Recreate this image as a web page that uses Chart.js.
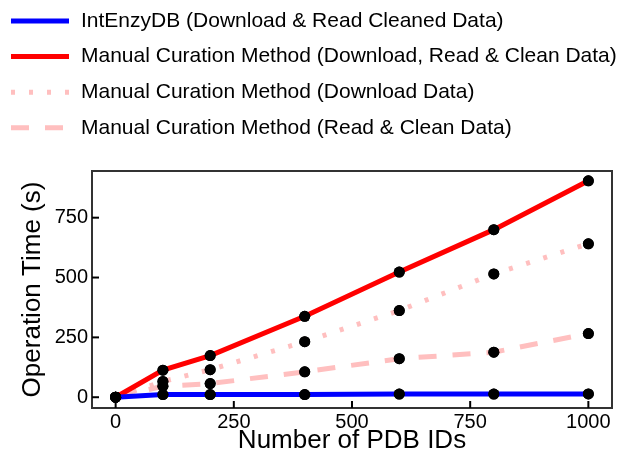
<!DOCTYPE html>
<html><head><meta charset="utf-8">
<script src="https://cdn.jsdelivr.net/npm/chart.js@4.4.0/dist/chart.umd.min.js"></script>
<style>html,body{margin:0;padding:0;background:#fff;overflow:hidden}</style>
</head><body>
<canvas id="c" width="626" height="459" style="display:block;width:626px;height:459px"></canvas>
<script>
const pdbIds = [0, 100, 200, 400, 600, 800, 1000];
const intEnzyDB = [0, 11, 11, 11, 13, 13, 14];
const manualTotal = [0, 113, 174, 338, 523, 700, 904];
const manualDownload = [0, 66, 115, 232, 362, 515, 641];
const manualReadClean = [0, 46, 57, 106, 161, 188, 266];
const xTicks = [0, 250, 500, 750, 1000];
const yTicks = [0, 250, 500, 750];
const seriesLabels = [
  'IntEnzyDB (Download & Read Cleaned Data)',
  'Manual Curation Method (Download, Read & Clean Data)',
  'Manual Curation Method (Download Data)',
  'Manual Curation Method (Read & Clean Data)'
];
const xTitle = 'Number of PDB IDs';
const yTitle = 'Operation Time (s)';

const FONT = "'Liberation Sans', Arial, Helvetica, sans-serif";
const pts = arr => arr.map((v, i) => ({x: pdbIds[i], y: v}));

function ds(label, data, color, dash) {
  return {
    label, data: pts(data), borderColor: color, backgroundColor: color,
    borderWidth: 5, borderDash: dash, tension: 0, fill: false,
    pointRadius: 5.5, pointBackgroundColor: '#000', pointBorderWidth: 0, pointHoverRadius: 5.5
  };
}

const overlay = {
  id: 'overlay',
  afterDatasetsDraw(chart) {
    const ctx = chart.ctx;
    chart.data.datasets.forEach((d, i) => {
      const meta = chart.getDatasetMeta(i);
      meta.data.forEach(p => p.draw(ctx, chart.chartArea));
    });
  },
  afterDraw(chart) {
    const ctx = chart.ctx;
    const a = chart.chartArea;
    ctx.save();
    ctx.strokeStyle = '#333';
    ctx.lineWidth = 2;
    ctx.setLineDash([]);
    ctx.strokeRect(a.left, a.top, a.right - a.left, a.bottom - a.top);
    ctx.strokeStyle = '#000';
    ctx.lineWidth = 2;
    const xs = chart.scales.x, ys = chart.scales.y;
    xs.ticks.forEach(t => {
      const px = xs.getPixelForValue(t.value);
      ctx.beginPath(); ctx.moveTo(px, a.bottom); ctx.lineTo(px, a.bottom - 7); ctx.stroke();
    });
    ys.ticks.forEach(t => {
      const py = ys.getPixelForValue(t.value);
      ctx.beginPath(); ctx.moveTo(a.left, py); ctx.lineTo(a.left + 7, py); ctx.stroke();
    });
    ctx.font = '21px ' + FONT;
    ctx.textBaseline = 'middle';
    ctx.textAlign = 'left';
    chart.data.datasets.forEach((d, i) => {
      const y = 21 + i * 35.6;
      ctx.strokeStyle = d.borderColor;
      ctx.lineWidth = 5;
      ctx.lineCap = 'butt';
      ctx.setLineDash(d.borderDash || []);
      ctx.beginPath(); ctx.moveTo(11, y); ctx.lineTo(69, y); ctx.stroke();
      ctx.setLineDash([]);
      ctx.fillStyle = '#000';
      ctx.fillText(d.label, 81, y);
    });
    ctx.restore();
  }
};

new Chart(document.getElementById('c'), {
  type: 'line',
  data: {
    datasets: [
      ds(seriesLabels[0], intEnzyDB, '#0000ff', []),
      ds(seriesLabels[1], manualTotal, '#ff0000', []),
      ds(seriesLabels[2], manualDownload, '#ffbfbf', [4, 14]),
      ds(seriesLabels[3], manualReadClean, '#ffbfbf', [18, 16])
    ]
  },
  options: {
    responsive: false,
    animation: false,
    events: [],
    layout: {padding: {top: 171, right: 14, left: 0, bottom: 0}},
    plugins: {legend: {display: false}, tooltip: {enabled: false}},
    scales: {
      x: {
        type: 'linear', min: -50, max: 1050,
        afterBuildTicks: s => { s.ticks = xTicks.map(v => ({value: v})); },
        afterFit: s => { s.height = 51; },
        grid: {display: false, drawTicks: false},
        border: {display: false},
        ticks: {padding: 2, color: '#000', font: {family: FONT, size: 20}, callback: v => String(v)},
        title: {display: true, text: xTitle, color: '#000', font: {family: FONT, size: 26}, padding: {top: 0, bottom: 3}}
      },
      y: {
        type: 'linear', min: -45, max: 945,
        afterBuildTicks: s => { s.ticks = yTicks.map(v => ({value: v})); },
        afterFit: s => { s.width = 92; },
        grid: {display: false, drawTicks: false},
        border: {display: false},
        ticks: {padding: 4, color: '#000', font: {family: FONT, size: 20}, callback: v => String(v)},
        title: {display: true, text: yTitle, color: '#000', font: {family: FONT, size: 26}, padding: {top: 17, bottom: 0}}
      }
    }
  },
  plugins: [overlay]
});
</script>
</body></html>
